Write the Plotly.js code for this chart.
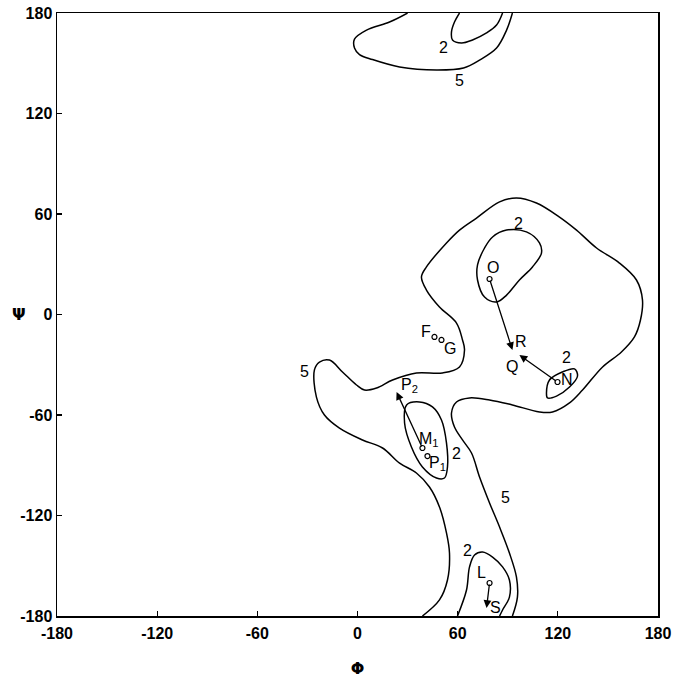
<!DOCTYPE html>
<html>
<head>
<meta charset="utf-8">
<script src="https://cdn.plot.ly/plotly-3.0.1.min.js"></script>
<style>html,body{margin:0;padding:0;background:#fff;}</style>
</head>
<body>
<div id="chart" style="width:674px;height:684px;"></div>
<script>
// Contour level 5: large region (open at bottom edge)
const c5MainPhi = [38.9,49.1,53.9,55.1,53.3,49.1,43.1,35.3,25.2,15.0,3.0,-10.8,-19.8,-24.6,-25.8,-22.8,-16.8,-9.0,-0.6,4.2,11.4,21.0,35.3,50.9,61.1,64.1,62.9,59.3,49.1,41.3,38.3,41.3,53.3,61.1,71.3,85.1,95.2,107.2,121.0,131.2,143.2,156.9,167.1,170.7,169.5,165.9,158.1,146.8,134.8,127.0,116.8,109.0,92.8,79.1,67.1,59.3,56.3,58.1,62.9,68.3,73.1,79.1,85.1,91.0,95.2,95.8,92.8];
const c5MainPsi = [-180,-170.4,-158.5,-142.4,-130.4,-114.9,-103.0,-94.6,-88.7,-79.7,-74.9,-67.8,-60.0,-49.3,-33.1,-28.4,-27.2,-34.3,-42.1,-45.1,-43.9,-39.1,-34.9,-34.9,-31.3,-21.2,-15.2,-5.1,4.5,14.6,22.4,28.4,42.7,50.4,57.6,67.2,69.6,66.6,58.2,50.4,39.7,30.7,20.6,8.7,-3.3,-13.4,-22.4,-31.3,-45.1,-52.8,-58.2,-58.2,-54.0,-51.0,-49.8,-52.2,-58.8,-67.2,-74.9,-82.7,-97.0,-112.5,-126.9,-142.4,-156.7,-168.7,-180];
// Contour level 5: top region (open at top edge)
const c5TopPhi = [30.0,19.2,5.4,-1.8,-1.8,1.2,9.0,25.2,47.3,63.5,73.1,83.3,89.3,92.8];
const c5TopPsi = [180,174.6,169.8,164.4,159.1,155.2,152.2,147.8,146.0,147.2,151.9,159.1,169.8,180];
// Contour level 2: top region
const c2TopPhi = [61.1,58.1,56.3,56.9,62.3,68.9,77.3,83.3,86.9];
const c2TopPsi = [180,174.6,168.7,163.9,162.1,163.9,168.1,172.8,180];
// Contour level 2: around O
const c2OPhi = [80.9,89.3,101.2,109.0,110.2,104.8,97.0,89.3,83.3,76.1,71.9,71.9,76.1,80.9];
const c2OPsi = [46.3,50.4,49.3,42.7,36.7,28.4,20.6,11.6,7.5,10.4,20.6,29.6,39.7,46.3];
// Contour level 2: around N
const c2NPhi = [113.2,115.0,122.8,130.0,131.8,127.0,119.2,113.8,113.2];
const c2NPsi = [-46.9,-39.1,-34.3,-32.5,-36.7,-43.3,-48.7,-49.8,-46.9];
// Contour level 2: around M1
const c2MPhi = [29.4,37.1,44.9,50.3,53.3,53.9,52.1,47.3,38.9,32.3,28.2,29.4];
const c2MPsi = [-54.0,-52.2,-55.2,-63.0,-76.7,-91.0,-97.6,-97.6,-91.0,-79.1,-64.8,-54.0];
// Contour level 2: around L (open at bottom edge)
const c2LPhi = [59.9,65.3,67.1,70.1,74.9,80.9,86.9,91.0,91.0,86.9,85.1];
const c2LPsi = [-180,-164.5,-150.7,-143.6,-141.8,-144.8,-150.7,-158.5,-168.7,-176.4,-180];

// Conformation points
const ptNames = ["O","N","M1","P1","F","G","L"];
const ptPhi = [79.1,119.8,38.9,41.9,46.1,50.3,79.1];
const ptPsi = [21.2,-40.3,-79.7,-84.5,-13.4,-15.2,-160.3];

// Arrows: tail -> head
const arTailPhi = [79.1,119.8,38.9,79.1];
const arTailPsi = [21.2,-40.3,-79.7,-160.3];
const arHeadPhi = [92.8,97.0,23.4,77.3];
const arHeadPsi = [-21.2,-24.2,-46.3,-175.2];

// Text labels
const lblText = ["5","2","2","O","F","G","R","Q","2","N","5","P<sub>2</sub>","M<sub>1</sub>","P<sub>1</sub>","2","5","2","L","S"];
const lblPhi = [61.1,51.5,96.4,80.9,41.3,55.7,98.2,92.8,125.2,125.2,-31.7,31.1,43.1,47.9,59.3,88.7,65.9,74.3,82.7];
const lblPsi = [140.0,159.7,54.6,27.8,-10.4,-20.0,-16.4,-31.3,-25.4,-39.1,-34.3,-42.1,-74.9,-88.7,-82.7,-109.0,-140.6,-154.3,-175.2];

// Axis ticks
const tickVals = [-180,-120,-60,0,60,120,180];
const tickText = ["-180","-120","-60","0","60","120","180"];

const lineStyle = {color:"black", width:1.5, shape:"spline", smoothing:1};
function contour(x,y){ return {x:x, y:y, type:"scatter", mode:"lines", line:lineStyle, hoverinfo:"skip", showlegend:false}; }

const traces = [
  contour(c5MainPhi,c5MainPsi),
  contour(c5TopPhi,c5TopPsi),
  contour(c2TopPhi,c2TopPsi),
  contour(c2OPhi,c2OPsi),
  contour(c2NPhi,c2NPsi),
  contour(c2MPhi,c2MPsi),
  contour(c2LPhi,c2LPsi),
  {x:ptPhi, y:ptPsi, text:ptNames, type:"scatter", mode:"markers",
   marker:{symbol:"circle-open", size:5, color:"black", line:{width:1.2, color:"black"}},
   showlegend:false, hoverinfo:"text"}
];

const annotations = [];
for (let i=0;i<lblText.length;i++){
  annotations.push({x:lblPhi[i], y:lblPsi[i], xref:"x", yref:"y", text:lblText[i], showarrow:false,
    font:{family:"Liberation Sans, Arial, sans-serif", size:16, color:"black"}});
}
for (let i=0;i<arTailPhi.length;i++){
  annotations.push({x:arHeadPhi[i], y:arHeadPsi[i], ax:arTailPhi[i], ay:arTailPsi[i],
    xref:"x", yref:"y", axref:"x", ayref:"y", text:"", showarrow:true,
    arrowhead:2, arrowsize:1.2, arrowwidth:1.3, arrowcolor:"black", standoff:0, startstandoff:0});
}
annotations.push({x:-0.078, y:0.5, xref:"paper", yref:"paper", text:"Ψ", showarrow:false,
  font:{family:"DejaVu Sans, sans-serif", size:16, color:"black", weight:"bold"}});

const axisBase = {
  range:[-180,180], tickvals:tickVals, ticktext:tickText, ticks:"inside", ticklen:5, tickwidth:1.2,
  tickcolor:"black", showline:true, linecolor:"black", linewidth:1.5, mirror:true,
  showgrid:false, zeroline:false, autorange:false, fixedrange:true,
  tickfont:{family:"Liberation Sans, Arial, sans-serif", size:16, color:"black", weight:"bold"}
};

const layout = {
  width:674, height:684,
  margin:{l:57, r:16, t:13, b:68},
  paper_bgcolor:"white", plot_bgcolor:"white",
  showlegend:false,
  xaxis:Object.assign({}, axisBase, {ticklabelstandoff:2, title:{text:"Φ", standoff:22,
    font:{family:"DejaVu Sans, sans-serif", size:16, color:"black", weight:"bold"}}}),
  yaxis:Object.assign({}, axisBase, {ticklabelstandoff:0}),
  annotations:annotations
};

Plotly.newPlot("chart", traces, layout, {displayModeBar:false, staticPlot:true});
</script>
</body>
</html>
